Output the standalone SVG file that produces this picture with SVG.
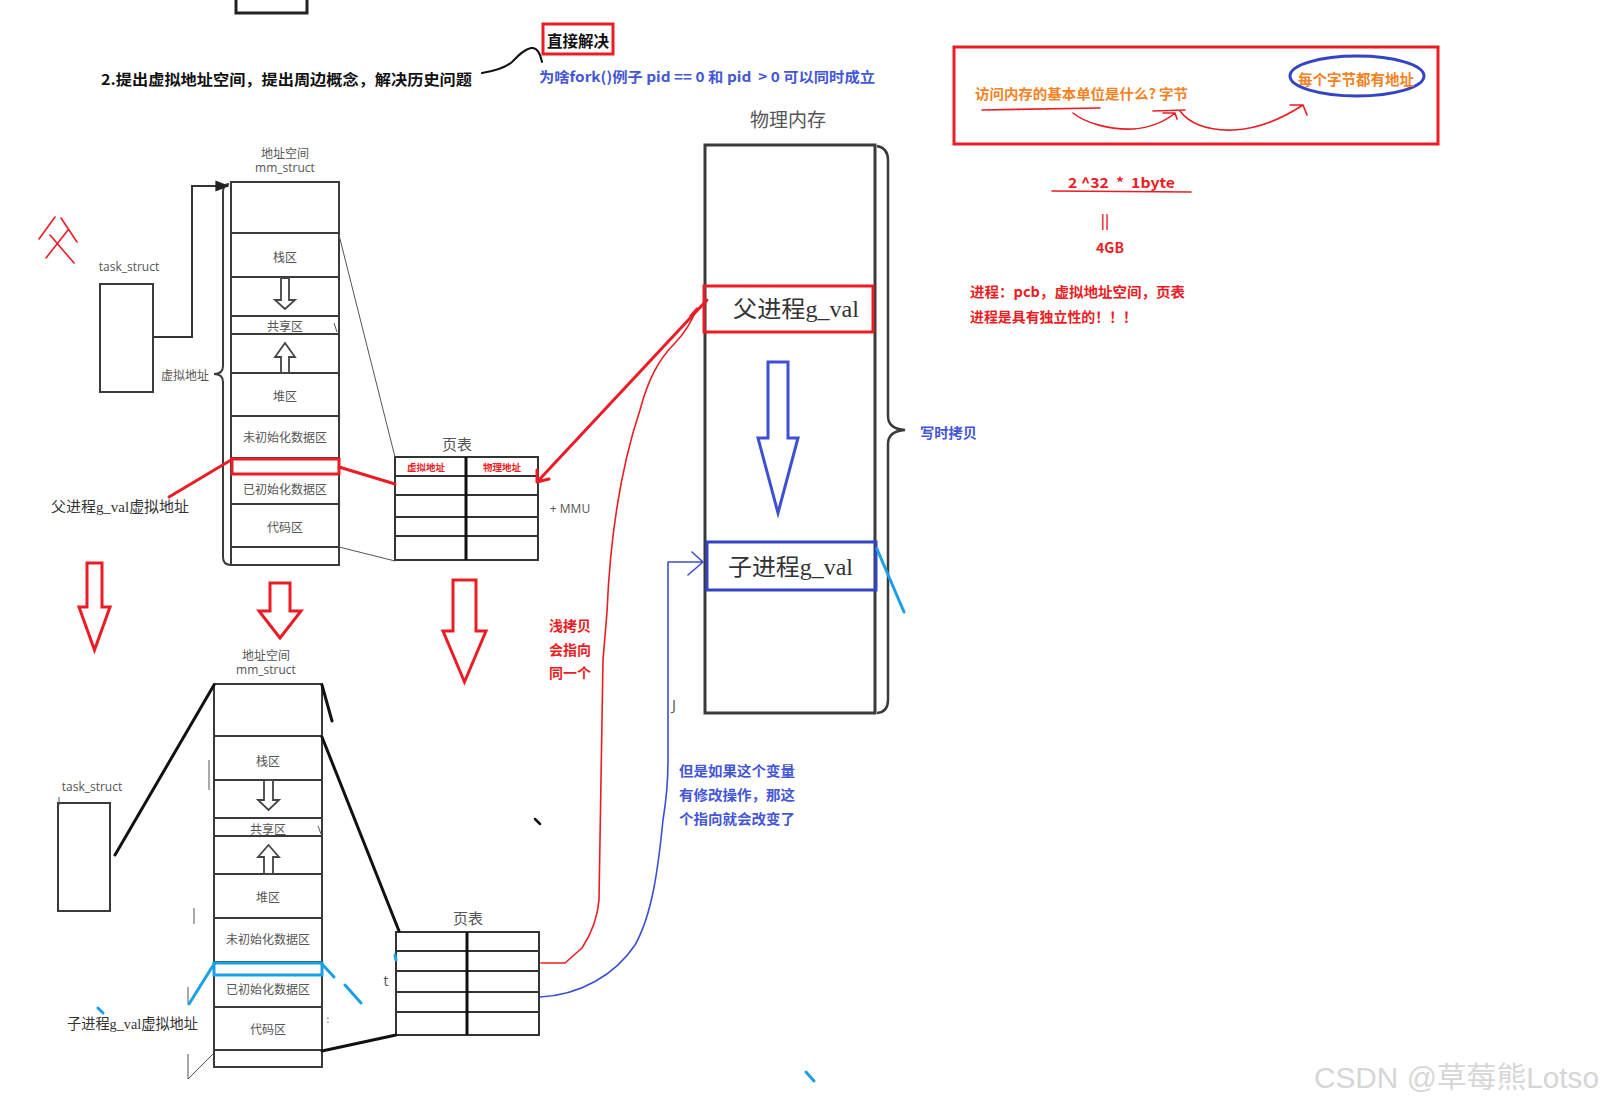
<svg xmlns="http://www.w3.org/2000/svg" width="1604" height="1105" viewBox="0 0 1604 1105">
<defs>
<style>
.lbl{font-family:"Noto Sans CJK SC","Noto Sans",sans-serif;font-size:12px;fill:#555;text-anchor:middle;dominant-baseline:central}
.en{font-family:"Open Sans","Noto Sans",sans-serif;font-size:12px;fill:#555;text-anchor:middle;dominant-baseline:central}
.b{font-family:"Noto Sans CJK SC","Noto Sans",sans-serif;font-weight:700;dominant-baseline:central}
.val{font-family:"Liberation Serif","Noto Sans CJK SC",serif;fill:#333;dominant-baseline:central}
.box{fill:none;stroke:#3a3a3a;stroke-width:2}
.tbl{fill:none;stroke:#333;stroke-width:2}
.thin{fill:none;stroke:#555;stroke-width:1}
.blk{fill:none;stroke:#111;stroke-width:3;stroke-linecap:round}
.red{fill:none;stroke:#ec1c24;stroke-width:3;stroke-linecap:round;stroke-linejoin:round}
.redt{fill:none;stroke:#ec1c24;stroke-width:1.6;stroke-linecap:round;stroke-linejoin:round}
.blu{fill:none;stroke:#3d4fd3;stroke-width:1.6;stroke-linecap:round;stroke-linejoin:round}
.cy{fill:none;stroke:#1aa0e4;stroke-width:3;stroke-linecap:round}
.harrow{fill:#fff;stroke:#444;stroke-width:1.8;stroke-linejoin:miter}
.rarrow{fill:none;stroke:#ec1c24;stroke-width:3;stroke-linejoin:miter}
</style>
<marker id="tri" viewBox="0 0 10 10" refX="9" refY="5" markerWidth="7" markerHeight="7" orient="auto"><path d="M0,1 L10,5 L0,9 Z" fill="#222"/></marker>
</defs>
<rect width="1604" height="1105" fill="#fff"/>

<g id="top-box"><rect x="236" y="-3" width="71" height="16" fill="none" stroke="#222" stroke-width="3"/></g>

<g id="title">
<text class="b" x="101" y="78" font-size="15" fill="#111" textLength="371" lengthAdjust="spacingAndGlyphs">2.提出虚拟地址空间，提出周边概念，解决历史问题</text>
</g>

<g id="note-direct">
<rect x="543" y="24" width="70" height="30" fill="none" stroke="#ec1c24" stroke-width="3"/>
<text class="b" x="578" y="40" font-size="15.5" fill="#111" text-anchor="middle">直接解决</text>
</g>

<g id="note-fork">
<text class="b" x="539" y="76" font-size="14" fill="#4456d8" xml:space="preserve" textLength="336" lengthAdjust="spacingAndGlyphs">为啥fork()例子 pid == 0 和 pid  &gt; 0 可以同时成立</text>
</g>

<g id="note-byte">
<rect x="954" y="47" width="484" height="97" fill="none" stroke="#ec1c24" stroke-width="3"/>
<text class="b" x="975" y="93" font-size="14" fill="#f5821f" textLength="213" lengthAdjust="spacingAndGlyphs">访问内存的基本单位是什么? 字节</text>
<ellipse cx="1357" cy="76" rx="67" ry="20" fill="none" stroke="#3344c4" stroke-width="3"/>
<text class="b" x="1298" y="78" font-size="14.5" fill="#f5821f" textLength="116" lengthAdjust="spacingAndGlyphs">每个字节都有地址</text>
<path class="redt" d="M982,110 L1100,108 M1153,111 L1185,110"/>
<path class="redt" d="M1073,113 C1085,123 1110,130 1133,129 C1150,128 1166,121 1175,113 M1163,113 L1175,113 L1177,119"/>
<path class="redt" d="M1180,111 C1188,122 1205,131 1233,130 C1255,129 1280,120 1303,105 M1290,105 L1303,105 L1307,115"/>
</g>

<g id="note-4gb">
<text class="b" x="1068" y="182" font-size="14" fill="#ec1c24" xml:space="preserve" textLength="107" lengthAdjust="spacingAndGlyphs">2 ^32  *  1byte</text>
<path class="redt" stroke-width="2.2" d="M1052,191 L1191,192"/>
<text class="b" x="1105" y="220" font-size="14" fill="#ec1c24" text-anchor="middle">||</text>
<text class="b" x="1110" y="247" font-size="14" fill="#ec1c24" text-anchor="middle">4GB</text>
<text class="b" x="970" y="291" font-size="14" fill="#ec1c24" textLength="215" lengthAdjust="spacingAndGlyphs">进程：pcb，虚拟地址空间，页表</text>
<text class="b" x="970" y="316" font-size="14" fill="#ec1c24" textLength="167" lengthAdjust="spacingAndGlyphs">进程是具有独立性的！！！</text>
</g>

<g id="phys-mem">
<text class="lbl" x="788" y="118" style="font-size:19px">物理内存</text>
<rect x="705" y="145" width="170" height="568" fill="none" stroke="#3a3a3a" stroke-width="3"/>
<path d="M877,146 Q888,148 888,160 V416 Q888,429 905,430 Q888,431 888,444 V700 Q888,712 877,713" fill="none" stroke="#3a3a3a" stroke-width="2.5"/>
<text class="b" x="920" y="432" font-size="14" fill="#4456d8" textLength="57" lengthAdjust="spacingAndGlyphs">写时拷贝</text>
</g>

<g id="parent-val">
<rect x="704" y="286" width="169" height="46" fill="none" stroke="#ec1c24" stroke-width="3"/>
<text class="val" x="733" y="309" font-size="23" textLength="126" lengthAdjust="spacingAndGlyphs">父进程g_val</text>
</g>

<g id="cow-arrow">
<path d="M768,362 H788 V438 H798 L778,513 L758,438 H768 Z" fill="none" stroke="#3d4fd3" stroke-width="3"/>
</g>

<g id="child-val">
<rect x="707" y="542" width="169" height="48" fill="none" stroke="#3344c4" stroke-width="3"/>
<text class="val" x="728" y="567" font-size="23" textLength="125" lengthAdjust="spacingAndGlyphs">子进程g_val</text>
</g>

<g id="father-mark">
<path class="redt" stroke-width="1.8" d="M55,217 L39,239 M61,218 L77,242 M68,230 L46,258 M50,235 L74,263"/>
</g>

<g id="task-parent">
<text class="en" x="129" y="266">task_struct</text>
<rect x="100" y="284" width="53" height="108" class="box"/>
</g>

<g id="mm-parent">
<text class="lbl" x="285" y="152">地址空间</text>
<text class="en" x="285" y="167">mm_struct</text>
<rect x="231" y="182" width="108" height="383" class="box"/>
<path class="box" d="M231,233 H339 M231,277 H339 M231,316 H339 M231,334 H339 M231,373 H339 M231,416 H339 M231,458 H339 M231,504 H339 M231,547 H339"/>
<text class="lbl" x="285" y="256">栈区</text>
<path class="harrow" d="M281,278 H289 V300 H295 L285,309 L275,300 H281 Z"/>
<text class="lbl" x="285" y="325">共享区</text>
<path class="thin" d="M334,323 L337,332"/>
<path class="harrow" d="M285,343 L295,357 H289 V373 H281 V357 H275 Z"/>
<text class="lbl" x="285" y="395">堆区</text>
<text class="lbl" x="285" y="436">未初始化数据区</text>
<rect x="232" y="459" width="107" height="15" fill="none" stroke="#ec1c24" stroke-width="3"/>
<text class="lbl" x="285" y="488">已初始化数据区</text>
<text class="lbl" x="285" y="526">代码区</text>
<path d="M229,184 Q223,184 223,192 V366 Q223,374 214,374 Q223,374 223,382 V557 Q223,565 231,565" fill="none" stroke="#3a3a3a" stroke-width="2"/>
<text class="lbl" x="185" y="374">虚拟地址</text>
<text class="val" x="51" y="507" font-size="14.5" textLength="138" lengthAdjust="spacingAndGlyphs">父进程g_val虚拟地址</text>
</g>

<g id="pt-parent">
<text class="lbl" x="457" y="443" style="font-size:15px">页表</text>
<rect x="395" y="457" width="143" height="103" class="tbl"/>
<path class="tbl" d="M395,476 H538 M395,495 H538 M395,517 H538 M395,536 H538"/>
<path d="M466,457 V560" stroke="#111" stroke-width="3"/>
<text class="b" x="426" y="467" font-size="9.5" fill="#ec1c24" text-anchor="middle">虚拟地址</text>
<text class="b" x="502" y="467" font-size="9.5" fill="#ec1c24" text-anchor="middle">物理地址</text>
<text class="en" x="570" y="508">+ MMU</text>
</g>

<g id="copy-arrows">
<path class="rarrow" d="M87,563 H102 V607 H110 L94.5,650 L79,607 H87 Z"/>
<path class="rarrow" d="M270,583 H290 V611 H301 L280,638 L259,611 H270 Z"/>
<path class="rarrow" d="M453,580 H476 V631 H486 L464.5,682 L443,631 H453 Z"/>
</g>

<g id="task-child">
<text class="en" x="92" y="786">task_struct</text>
<rect x="58" y="803" width="52" height="108" class="box"/>
<path class="thin" d="M59,797 V805"/>
</g>

<g id="mm-child">
<text class="lbl" x="266" y="654">地址空间</text>
<text class="en" x="266" y="669">mm_struct</text>
<rect x="214" y="684" width="108" height="383" class="box"/>
<path class="box" d="M214,736 H322 M214,780 H322 M214,818 H322 M214,836 H322 M214,874 H322 M214,918 H322 M214,962 H322 M214,1007 H322 M214,1050 H322"/>
<text class="lbl" x="268" y="760">栈区</text>
<path class="harrow" d="M264,780 H273 V800 H279 L268.5,810 L258,800 H264 Z"/>
<text class="lbl" x="268" y="828">共享区</text>
<path class="thin" d="M318,826 L321,834"/>
<path class="harrow" d="M268.5,845 L279,857 H273 V874 H264 V857 H258 Z"/>
<text class="lbl" x="268" y="896">堆区</text>
<text class="lbl" x="268" y="938">未初始化数据区</text>
<rect x="214" y="963" width="108" height="12" fill="none" stroke="#1aa0e4" stroke-width="3"/>
<text class="lbl" x="268" y="988">已初始化数据区</text>
<text class="lbl" x="268" y="1028">代码区</text>
<text class="val" x="67" y="1024" font-size="14.5" textLength="131" lengthAdjust="spacingAndGlyphs">子进程g_val虚拟地址</text>
<path class="thin" d="M209,760 V790 M194,908 V924 M188,987 V1003 M188,1054 V1079 L213,1054"/>
<text class="lbl" x="328" y="1018" style="font-size:10px">:</text>
</g>

<g id="pt-child">
<text class="lbl" x="468" y="917" style="font-size:15px">页表</text>
<rect x="396" y="932" width="143" height="103" class="tbl"/>
<path class="tbl" d="M396,951 H539 M396,971 H539 M396,992 H539 M396,1012 H539"/>
<path d="M467,932 V1035" stroke="#111" stroke-width="3"/>
<text class="en" x="386" y="980" style="font-size:14px">t</text>
</g>

<g id="notes-mid">
<text class="b" x="549" y="625" font-size="14" fill="#ec1c24">浅拷贝</text>
<text class="b" x="549" y="649" font-size="14" fill="#ec1c24">会指向</text>
<text class="b" x="549" y="672" font-size="14" fill="#ec1c24">同一个</text>
<text class="b" x="679" y="770" font-size="14" fill="#4456d8" textLength="116" lengthAdjust="spacingAndGlyphs">但是如果这个变量</text>
<text class="b" x="679" y="794" font-size="14" fill="#4456d8" textLength="116" lengthAdjust="spacingAndGlyphs">有修改操作，那这</text>
<text class="b" x="679" y="818" font-size="14" fill="#4456d8" textLength="116" lengthAdjust="spacingAndGlyphs">个指向就会改变了</text>
<text class="en" x="674" y="704" style="font-size:15px">J</text>
</g>

<g id="connectors">
<path d="M482,73 C495,71 505,68 512,62 C518,56 523,50 531,48 C537,47 540,52 542,62" fill="none" stroke="#111" stroke-width="2" stroke-linecap="round"/>
<path d="M153,337 H192 V186 H228" fill="none" stroke="#333" stroke-width="2" marker-end="url(#tri)"/>
<path class="thin" d="M339,235 L395,457 M339,547 L395,561"/>
<path class="red" d="M169,497 L231,460"/>
<path class="red" d="M339,467 L395,484"/>
<path class="red" d="M538,481 L707,300 M537,482 L537,470 M537,482 L549,479"/>
<path class="redt" d="M541,963 L565,963 L582,948 Q597,925 599,900 L603,660 L607,612 C610,540 620,470 640,410 C648,380 658,360 675,343 C686,332 693,318 697,308 L690,316"/>
<path class="blu" d="M540,997 C580,995 615,975 635,945 C652,915 658,870 663,820 Q668,790 668,760 L668,562 L703,562 M692,552 L703,562 L688,575"/>
<path class="blk" d="M115,855 L214,685 M322,685 L332,721 M322,737 L399,931 M322,1051 L396,1035"/>
<path class="cy" d="M214,964 L189,1004 M322,964 L334,977 M345,985 L361,1003"/>
<path class="cy" stroke-width="2.5" d="M877,549 L904,612"/>
<path class="cy" stroke-width="2" d="M98,1008 L103,1013 M395,955 L396,960 M806,1072 L814,1081"/>
<path d="M535,819 L540,824" stroke="#111" stroke-width="2.5" stroke-linecap="round"/>
</g>

<g id="watermark">
<text x="1314" y="1078" font-family="Liberation Sans,'Noto Sans CJK SC',sans-serif" font-size="29" fill="#d6d6d6" dominant-baseline="central" textLength="285" lengthAdjust="spacingAndGlyphs">CSDN @草莓熊Lotso</text>
</g>
</svg>
